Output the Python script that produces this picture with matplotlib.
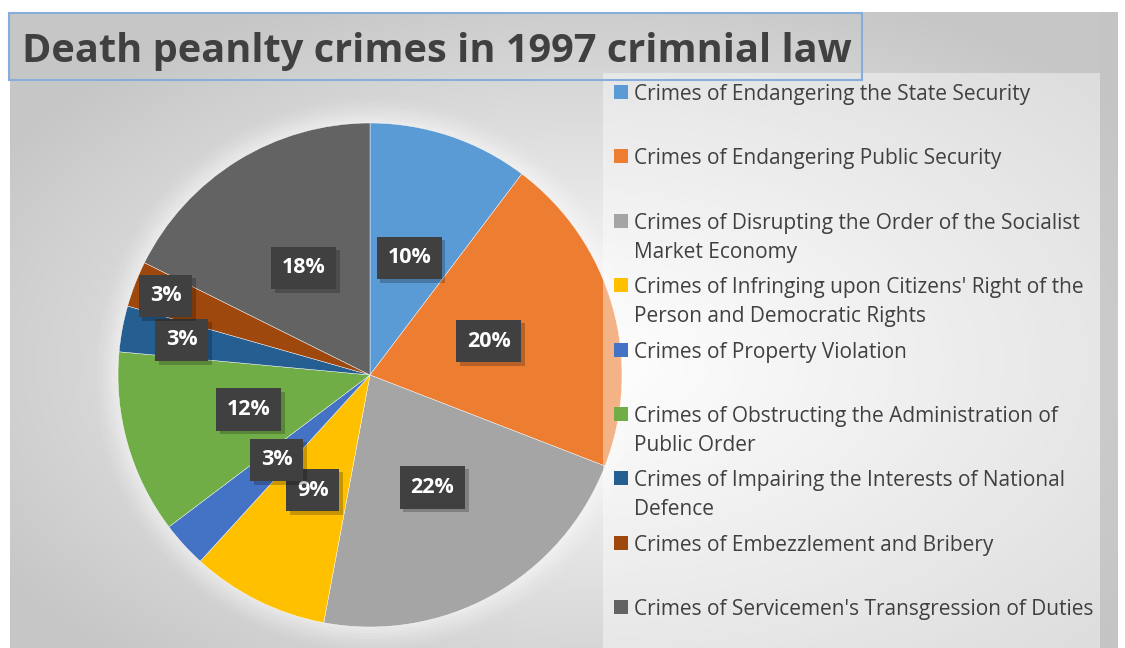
import numpy as np
import matplotlib
matplotlib.use("Agg")
import matplotlib.pyplot as plt
from matplotlib.patches import Rectangle, Circle
import matplotlib.patheffects as pe

# ---- data ----
categories = [
    "Crimes of Endangering the State Security",
    "Crimes of Endangering Public Security",
    "Crimes of Disrupting the Order of the Socialist\nMarket Economy",
    "Crimes of Infringing upon Citizens' Right of the\nPerson and Democratic Rights",
    "Crimes of Property Violation",
    "Crimes of Obstructing the Administration of\nPublic Order",
    "Crimes of Impairing the Interests of National\nDefence",
    "Crimes of Embezzlement and Bribery",
    "Crimes of Servicemen's Transgression of Duties",
]
counts = [7, 14, 15, 6, 2, 8, 2, 2, 12]
colors = ["#5B9BD5", "#ED7D31", "#A5A5A5", "#FFC000", "#4472C4",
          "#70AD47", "#255E91", "#9E480E", "#636363"]
label_radius = [0.49, 0.49, 0.51, 0.51, 0.5, 0.5, 0.76, 0.87, 0.5]
title = "Death peanlty crimes in 1997 crimnial law"

# percentages rounded so that they total 100 (largest remainder)
raw = np.array(counts, float) / sum(counts) * 100
pct = np.floor(raw).astype(int)
order = np.argsort(-(raw - pct), kind="stable")
for k in order[:100 - pct.sum()]:
    pct[k] += 1
pct_labels = [f"{p}%" for p in pct]

W, H = 1125, 648
fig = plt.figure(figsize=(W / 100, H / 100), dpi=100)
fig.patch.set_facecolor("white")

def fx(px):
    return px / W

def fy(py):
    return 1 - py / H

# ---- background gradient ----
bg = fig.add_axes([fx(10), 0, fx(1118) - fx(10), fy(12)], zorder=-2)
yy, xx = np.mgrid[0:300, 0:500]
cx, cy = 0.52 * 500, 0.55 * 300
r = np.sqrt(((xx - cx) / 500) ** 2 + ((yy - cy) / 300) ** 2)
r = np.clip(r / 0.62, 0, 1)
val = 1.0 - 0.22 * r
bg.imshow(np.dstack([val, val, val]), aspect="auto", extent=[0, 1, 0, 1],
          interpolation="bilinear")
bg.set_xlim(0, 1)
bg.set_ylim(0, 1)
bg.axis("off")
fig.patches.append(Rectangle((fx(1100), 0), fx(1118) - fx(1100), fy(12),
                             transform=fig.transFigure, facecolor="#c4c4c4",
                             edgecolor="none", alpha=0.6, zorder=-1))

# ---- pie ----
cxp, cyp, R = 370, 375, 252
half = 280
ax = fig.add_axes([fx(cxp - half), fy(cyp + half), 2 * half / W, 2 * half / H])
lim = half / R

# soft white halo
for i, a in enumerate(np.linspace(0.14, 0.02, 9)):
    ax.add_patch(Circle((0, 0), 1.0 + 0.012 * (i + 1), facecolor="white",
                        edgecolor="none", alpha=a, zorder=0))

wedges, _ = ax.pie(counts, colors=colors, startangle=90, counterclock=False,
                   radius=1.0, wedgeprops=dict(edgecolor="white", linewidth=0.3))
for w in wedges:
    w.set_zorder(1)
ax.set_aspect("auto")
ax.set_xlim(-lim, lim)
ax.set_ylim(-lim, lim)
ax.axis("off")

for w, lab, lr in zip(wedges, pct_labels, label_radius):
    ang = np.deg2rad((w.theta1 + w.theta2) / 2)
    x, y = lr * np.cos(ang), lr * np.sin(ang)
    t = ax.text(x, y, lab, ha="center", va="center", fontsize=15.5,
                fontweight="bold", family="Open Sans", color="white",
                bbox=dict(boxstyle="square,pad=0.5", facecolor="#404040",
                          edgecolor="none"), zorder=5)
    t.get_bbox_patch().set_path_effects([
        pe.SimplePatchShadow(offset=(2.5, -2.5), shadow_rgbFace="black",
                             alpha=0.22),
        pe.Normal()])

# ---- legend panel ----
fig.patches.append(Rectangle((fx(603), 0), fx(1100) - fx(603), fy(73),
                             transform=fig.transFigure, facecolor="white",
                             edgecolor="none", alpha=0.42, zorder=1))
slot0, slot = 92, 64.4
line_h = 29
for i, (lab, c) in enumerate(zip(categories, colors)):
    ytop = slot0 + i * slot
    fig.patches.append(Rectangle((fx(614), fy(ytop + 7)), fx(14), 14 / H,
                                 transform=fig.transFigure, facecolor=c,
                                 edgecolor="none", zorder=2))
    for j, part in enumerate(lab.split("\n")):
        fig.text(fx(634), fy(ytop + j * line_h), part, ha="left",
                 va="center_baseline", fontsize=15, family="Open Sans",
                 color="#404040", zorder=3)

# ---- title ----
fig.patches.append(Rectangle((fx(9), fy(80)), fx(862) - fx(9), (80 - 13) / H,
                             transform=fig.transFigure, facecolor="none",
                             edgecolor="#86aedc", linewidth=1.5, zorder=2))
fig.text(fx(22), fy(47), title, ha="left", va="center_baseline",
         fontsize=28.6, fontweight="bold", family="Open Sans", color="#404040",
         zorder=3)

fig.savefig("out.png", dpi=100)
